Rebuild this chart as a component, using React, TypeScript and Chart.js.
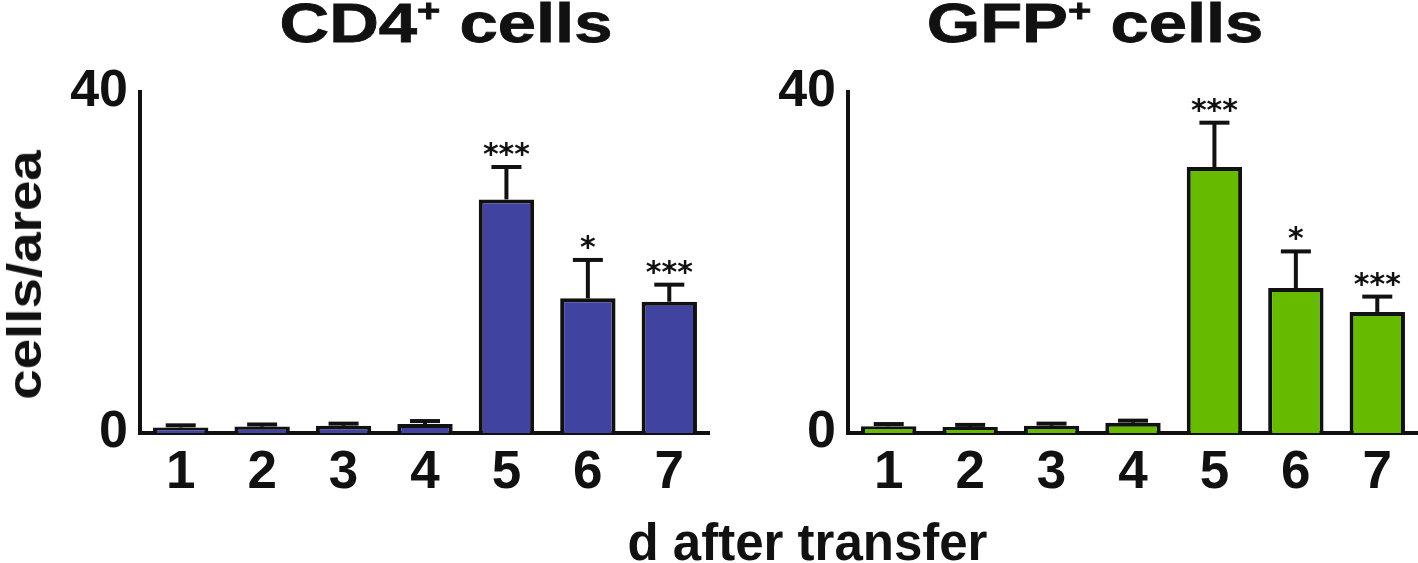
import React, { useEffect, useRef } from "react";
import { Chart, registerables } from "chart.js";

Chart.register(...registerables);

// ---- data ----
const days = ["1", "2", "3", "4", "5", "6", "7"];
const cd4Means = [0.65, 0.75, 0.85, 1.05, 27.4, 15.8, 15.4];
const cd4ErrTops = [0.9, 1.0, 1.1, 1.4, 31.2, 20.3, 17.4];
const gfpMeans = [0.8, 0.7, 0.85, 1.2, 31.2, 17.0, 14.2];
const gfpErrTops = [1.05, 0.95, 1.1, 1.45, 36.4, 21.3, 16.0];
const cd4Stars = ["", "", "", "", "***", "*", "***"];
const gfpStars = ["", "", "", "", "***", "*", "***"];
const yTicks = [0, 40];

const FONT = "'Liberation Sans', Arial, Helvetica, sans-serif";
const STAR_FONT = "'DejaVu Sans', sans-serif";
const INK = "#111111";

function makeErrPlugin(means: number[], tops: number[], stars: string[]) {
  return {
    id: "errbars",
    afterDatasetsDraw(chart: any) {
      const { ctx } = chart;
      const meta = chart.getDatasetMeta(0);
      const y = chart.scales.y;
      ctx.save();
      ctx.strokeStyle = INK;
      ctx.lineWidth = 4;
      ctx.lineCap = "butt";
      meta.data.forEach((bar: any, i: number) => {
        const x = bar.x;
        const yb = y.getPixelForValue(means[i]);
        const yt = y.getPixelForValue(tops[i]);
        ctx.beginPath();
        ctx.moveTo(x, yb);
        ctx.lineTo(x, yt);
        ctx.stroke();
        ctx.beginPath();
        ctx.moveTo(x - 15, yt);
        ctx.lineTo(x + 15, yt);
        ctx.stroke();
        if (stars[i]) {
          ctx.fillStyle = INK;
          ctx.font = `bold 30px ${STAR_FONT}`;
          ctx.textAlign = "center";
          ctx.textBaseline = "alphabetic";
          ctx.fillText(stars[i], x, yt - 3);
        }
      });
      ctx.restore();
    },
  };
}

function Panel(props: {
  left: number;
  width: number;
  yWidth: number;
  means: number[];
  tops: number[];
  stars: string[];
  color: string;
}) {
  const ref = useRef<HTMLCanvasElement | null>(null);
  useEffect(() => {
    if (!ref.current) return;
    const chart = new Chart(ref.current, {
      type: "bar",
      data: {
        labels: days,
        datasets: [
          {
            data: props.means,
            backgroundColor: props.color,
            borderColor: INK,
            borderWidth: 4,
            barPercentage: 0.68,
            categoryPercentage: 1,
          },
        ],
      },
      options: {
        responsive: false,
        animation: false,
        devicePixelRatio: 1,
        layout: { padding: { top: 92, right: 0, bottom: 0, left: 0 } },
        plugins: { legend: { display: false }, tooltip: { enabled: false } },
        scales: {
          x: {
            grid: { display: false, drawTicks: false },
            border: { display: true, width: 4, color: INK },
            ticks: {
              color: INK,
              font: { family: FONT, size: 53, weight: "bold" },
              padding: 9,
              maxRotation: 0,
              autoSkip: false,
            },
            afterFit: (s: any) => {
              s.height = 130;
            },
          },
          y: {
            min: 0,
            max: 40,
            grid: { display: false, drawTicks: false },
            border: { display: true, width: 4, color: INK },
            ticks: {
              color: INK,
              font: { family: FONT, size: 52, weight: "bold" },
              padding: 12,
            },
            afterBuildTicks: (s: any) => {
              s.ticks = yTicks.map((v) => ({ value: v }));
            },
            afterFit: (s: any) => {
              s.width = props.yWidth;
            },
          },
        },
      } as any,
      plugins: [makeErrPlugin(props.means, props.tops, props.stars)],
    });
    return () => chart.destroy();
  }, []);
  return (
    <canvas
      ref={ref}
      width={props.width}
      height={563}
      style={{ position: "absolute", left: props.left, top: 0, width: props.width, height: 563, display: "block" }}
    />
  );
}

function Title(props: { name: string; cx: number }) {
  return (
    <div
      style={{
        position: "absolute",
        left: props.cx,
        top: -3.6,
        transform: "translateX(-50%) scaleX(1.25)",
        transformOrigin: "center",
        whiteSpace: "nowrap",
        fontFamily: FONT,
        fontWeight: "bold",
        fontSize: 55,
        lineHeight: "55px",
        color: INK,
        WebkitTextStroke: "0.8px #111111",
      }}
    >
      {props.name}
      <span style={{ fontSize: 32, position: "relative", top: -21 }}>+</span> cells
    </div>
  );
}

export default function App() {
  return (
    <div
      style={{
        position: "absolute",
        left: 0,
        top: 0,
        width: 1418,
        height: 563,
        background: "#ffffff",
        overflow: "hidden",
      }}
    >
      <Panel left={0} width={710} yWidth={140} means={cd4Means} tops={cd4ErrTops} stars={cd4Stars} color="#4143a0" />
      <Panel left={712} width={706} yWidth={136} means={gfpMeans} tops={gfpErrTops} stars={gfpStars} color="#66bb00" />
      <Title name="CD4" cx={445.5} />
      <Title name="GFP" cx={1095} />
      <div
        style={{
          position: "absolute",
          left: 25.4,
          top: 275,
          transform: "translate(-50%, -50%) rotate(-90deg) scaleX(1.14)",
          whiteSpace: "nowrap",
          fontFamily: FONT,
          fontWeight: "bold",
          fontSize: 48,
          lineHeight: "48px",
          color: INK,
        }}
      >
        cells/area
      </div>
      <div
        style={{
          position: "absolute",
          left: 807.5,
          top: 516.8,
          transform: "translateX(-50%)",
          whiteSpace: "nowrap",
          fontFamily: FONT,
          fontWeight: "bold",
          fontSize: 51,
          lineHeight: "51px",
          color: INK,
        }}
      >
        d after transfer
      </div>
    </div>
  );
}
